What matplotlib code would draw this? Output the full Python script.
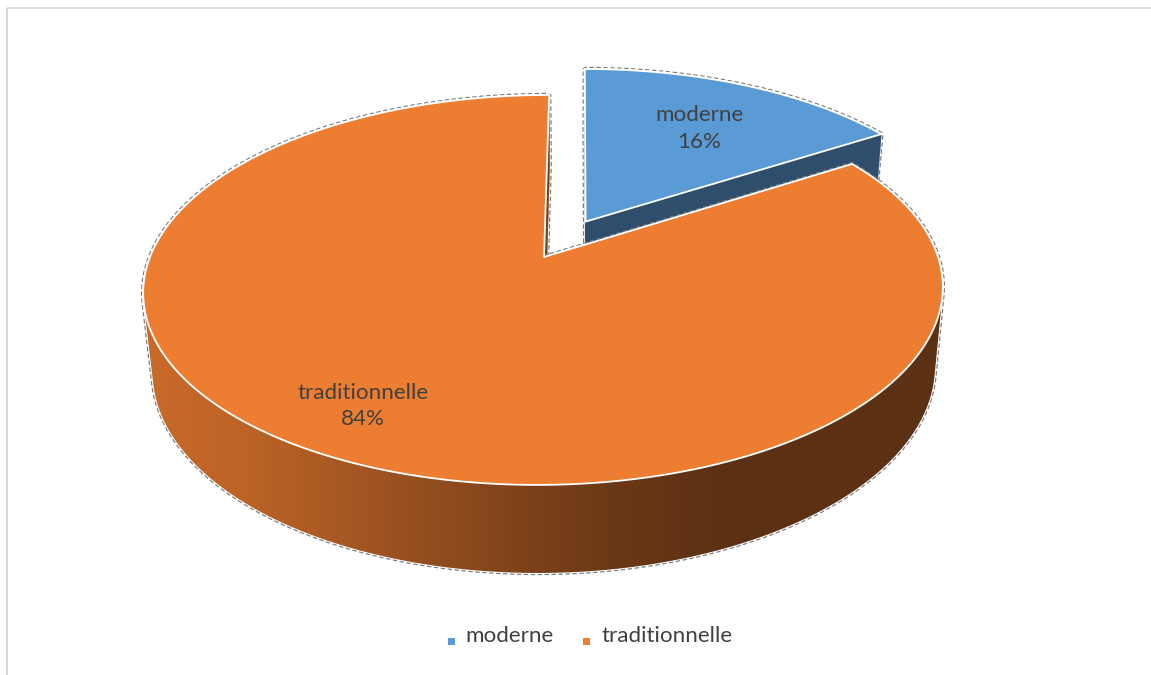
import numpy as np
import matplotlib
matplotlib.use("Agg")
import matplotlib.pyplot as plt
from matplotlib.patches import Polygon, Rectangle
from matplotlib.colors import to_rgb

# ---------------- data ----------------
categories = ["moderne", "traditionnelle"]
values = [16, 84]
top_colors = ["#5B9BD5", "#ED7D31"]
explode = [0.22, 0.0]
label_texts = ["moderne\n16%", "traditionnelle\n84%"]

# ---------------- 3D camera ----------------
W, H = 1151, 675
PHI = np.radians(28.73)
SP, CP = np.sin(PHI), np.cos(PHI)
DIST = 5.19
FOCAL = 2045.0
THICK = 0.2314
XCAM = 0.09
CX, CY = 579.5, 257.0


def proj(X, Y, Z):
    X = np.asarray(X, float); Y = np.asarray(Y, float); Z = np.asarray(Z, float)
    zc = DIST + Y * CP - Z * SP
    yc = Y * SP + Z * CP
    return CX + FOCAL * (X - XCAM) / zc, CY - FOCAL * yc / zc


def depth(X, Y, Z):
    return DIST + np.mean(Y) * CP - np.mean(Z) * SP


CAM = np.array([XCAM, -DIST * CP, DIST * SP])

plt.rcParams["lines.scale_dashes"] = False
fig = plt.figure(figsize=(W / 100, H / 100), dpi=100)
ax = fig.add_axes([0, 0, 1, 1])
ax.set_axis_off()

# chart frame
ax.plot([7.5, 7.5], [H, 7.5], color="#d9d9d9", lw=1.4, solid_capstyle="butt", zorder=1)
ax.plot([7.5, W], [7.5, 7.5], color="#d9d9d9", lw=1.4, solid_capstyle="butt", zorder=1)

# shading profile for the curved side (screen x -> brightness factor)
shade_x = [140, 250, 450, 600, 720, 960]
shade_f = [0.85, 0.79, 0.60, 0.46, 0.39, 0.39]

total = float(sum(values))
start = 90.0
pieces = []
label_pos = []
label_r = [0.66, 0.80]
label_dang = [-1.0, -0.8]

for i, v in enumerate(values):
    th1 = start
    th2 = start - 360.0 * v / total
    start = th2
    mid = np.radians((th1 + th2) / 2)
    ox, oy = explode[i] * np.cos(mid), explode[i] * np.sin(mid)
    t = np.radians(np.linspace(th1, th2, 600))
    ct, st = np.cos(t), np.sin(t)
    base = np.array(to_rgb(top_colors[i]))
    sides = []

    # top face
    Xt = np.r_[ox, ox + ct]; Yt = np.r_[oy, oy + st]; Zt = np.zeros_like(Xt)
    top = np.column_stack(proj(Xt, Yt, Zt))

    # curved rim visibility
    vis = (XCAM - ox) * ct - (DIST * CP + oy) * st - 1 > 0
    runs = []
    j = 0
    while j < len(vis):
        if vis[j]:
            k = j
            while k + 1 < len(vis) and vis[k + 1]:
                k += 1
            runs.append((j, k))
            j = k + 1
        else:
            j += 1
    for (a, b) in runs:
        Xr = ox + ct[a:b + 1]; Yr = oy + st[a:b + 1]
        xs_t, ys_t = proj(Xr, Yr, 0 * Xr)
        xs_b, ys_b = proj(Xr, Yr, 0 * Xr - THICK)
        pts = np.column_stack([np.r_[xs_t, xs_b[::-1]], np.r_[ys_t, ys_b[::-1]]])
        sides.append((depth(Xr, Yr, -THICK / 2), pts, ("grad", base)))

    # radial faces
    face_vis = []
    for th, sgn in ((np.radians(th1), 1), (np.radians(th2), -1)):
        n = np.array([-np.sin(th), np.cos(th), 0.0]) * sgn
        P = np.array([ox + 0.5 * np.cos(th), oy + 0.5 * np.sin(th), -THICK / 2])
        fv = np.dot(n, CAM - P) > 1e-6
        face_vis.append(fv)
        if fv:
            Xf = [ox, ox + np.cos(th), ox + np.cos(th), ox]
            Yf = [oy, oy + np.sin(th), oy + np.sin(th), oy]
            Zf = [0, 0, -THICK, -THICK]
            sides.append((depth(Xf, Yf, Zf), np.column_stack(proj(Xf, Yf, Zf)), ("solid", base * 0.5)))

    # silhouette outline
    X3, Y3, Z3 = [], [], []
    if face_vis[0]:
        X3 += [ox, ox + ct[0]]; Y3 += [oy, oy + st[0]]; Z3 += [-THICK, -THICK]
    else:
        X3 += [ox]; Y3 += [oy]; Z3 += [0]
    j = 0
    run_starts = {a: b for a, b in runs}
    while j < len(t):
        if j in run_starts:
            b = run_starts[j]
            X3 += [ox + ct[j]]; Y3 += [oy + st[j]]; Z3 += [0]
            X3 += list(ox + ct[j:b + 1]); Y3 += list(oy + st[j:b + 1]); Z3 += [-THICK] * (b - j + 1)
            X3 += [ox + ct[b]]; Y3 += [oy + st[b]]; Z3 += [0]
            j = b + 1
        else:
            X3 += [ox + ct[j]]; Y3 += [oy + st[j]]; Z3 += [0]
            j += 1
    if face_vis[1]:
        X3 += [ox + ct[-1], ox]; Y3 += [oy + st[-1], oy]; Z3 += [-THICK, -THICK]
    else:
        X3 += [ox]; Y3 += [oy]; Z3 += [0]
    outline = np.column_stack(proj(X3, Y3, Z3))

    pieces.append(dict(depth=depth(Xt, Yt, Zt), top=top, color=top_colors[i],
                       sides=sides, outline=outline))

    # label anchor
    la = mid + np.radians(label_dang[i])
    lx, ly = proj(ox + label_r[i] * np.cos(la), oy + label_r[i] * np.sin(la), 0.0)
    label_pos.append((float(lx), float(ly)))


def offset_outline(pts, off):
    P = pts.copy()
    keep = np.r_[True, np.any(np.abs(np.diff(P, axis=0)) > 1e-6, axis=1)]
    P = P[keep]
    area = 0.5 * np.sum(P[:, 0] * np.roll(P[:, 1], -1) - np.roll(P[:, 0], -1) * P[:, 1])
    d = np.roll(P, -1, axis=0) - np.roll(P, 1, axis=0)
    nrm = np.column_stack([d[:, 1], -d[:, 0]]) if area > 0 else np.column_stack([-d[:, 1], d[:, 0]])
    nrm /= np.maximum(np.hypot(nrm[:, 0], nrm[:, 1]), 1e-9)[:, None]
    Q = P + off * nrm
    return np.vstack([Q, Q[:1]])


# draw pieces far to near: sides, outline, then top
z = 2.0
for pc in sorted(pieces, key=lambda p: -p["depth"]):
    for d, pts, style in sorted(pc["sides"], key=lambda s: -s[0]):
        if style[0] == "solid":
            ax.add_patch(Polygon(pts, closed=True, facecolor=style[1], edgecolor=style[1],
                                 lw=0.3, zorder=z))
        else:
            poly = Polygon(pts, closed=True, facecolor="none", edgecolor="none", zorder=z)
            ax.add_patch(poly)
            xs = np.linspace(140, 960, 820)
            f = np.interp(xs, shade_x, shade_f)
            img = np.clip(style[1][None, None, :] * f[None, :, None], 0, 1)
            im = ax.imshow(img, extent=[140, 960, 600, 250], origin="upper", aspect="auto",
                           interpolation="bilinear", zorder=z)
            im.set_clip_path(poly)
    Q = offset_outline(pc["outline"], 1.6)
    ax.plot(Q[:, 0], Q[:, 1], color="#7a7a7a", lw=0.85, dashes=(3.2, 1.8), zorder=z + 0.1)
    ax.add_patch(Polygon(pc["top"], closed=True, facecolor=pc["color"], edgecolor="white",
                         lw=1.3, joinstyle="round", zorder=z + 0.2))
    z += 1.0

ax.set_xlim(0, W)
ax.set_ylim(H, 0)

# ---------------- text ----------------
FONT = ["Lato", "DejaVu Sans"]
TXT = "#404040"
labels = []
for (lx, ly), s in zip(label_pos, label_texts):
    labels.append(ax.text(lx, ly, s, ha="center", va="center", color=TXT, family=FONT,
                          fontsize=16, linespacing=1.4, zorder=10))

leg_texts = []
for i, c in enumerate(categories):
    leg_texts.append(ax.text(0, 642, c, ha="left", va="baseline", color=TXT, family=FONT,
                             fontsize=16, zorder=10))

fig.canvas.draw()
r = fig.canvas.get_renderer()
wt = leg_texts[1].get_window_extent(r).width
scale = 131.0 / wt
for tx in labels + leg_texts:
    tx.set_fontsize(16 * scale)
fig.canvas.draw()

widths = [tx.get_window_extent(r).width for tx in leg_texts]
msz, mgap, igap = 7, 11, 29
total_w = sum(msz + mgap + w for w in widths) + igap * (len(widths) - 1)
x = 590 - total_w / 2
for i, tx in enumerate(leg_texts):
    ax.add_patch(Rectangle((x, 638), msz, msz, facecolor=top_colors[i], edgecolor="none", zorder=10))
    tx.set_x(x + msz + mgap)
    x += msz + mgap + widths[i] + igap

fig.savefig("out.png", dpi=100)
